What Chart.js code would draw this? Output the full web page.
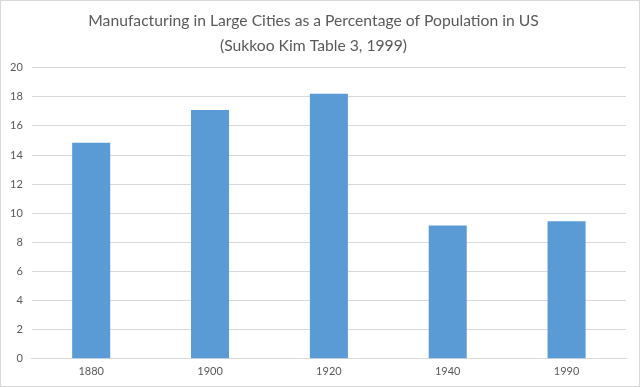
<!DOCTYPE html>
<html><head><meta charset="utf-8">
<script src="https://cdn.jsdelivr.net/npm/chart.js@4/dist/chart.umd.min.js"></script>
<style>
html,body{margin:0;padding:0;background:#fff;}
#wrap{position:absolute;left:0;top:0;width:638px;height:385px;border:1px solid #d9d9d9;}
</style></head><body>
<div id="wrap"><canvas id="c" width="638" height="385"></canvas></div>
<script>
const categories = ["1880", "1900", "1920", "1940", "1990"];
const values = [14.85, 17.1, 18.2, 9.15, 9.45];
const titleLines = ["Manufacturing in Large Cities as a Percentage of Population in US", "(Sukkoo Kim Table 3, 1999)"];

new Chart(document.getElementById('c'), {
  type: 'bar',
  data: {
    labels: categories,
    datasets: [{
      data: values,
      backgroundColor: '#5b9bd5',
      borderColor: '#5b9bd5',
      borderWidth: 0,
      barPercentage: 0.32,
      categoryPercentage: 1.0
    }]
  },
  options: {
    responsive: false,
    animation: false,
    devicePixelRatio: 1,
    layout: { padding: { left: 0, right: 13, top: 8, bottom: 2 } },
    plugins: {
      legend: { display: false },
      tooltip: { enabled: false },
      title: {
        display: true,
        text: titleLines,
        color: '#595959',
        font: { family: 'Lato', size: 15.7, weight: 'normal', lineHeight: 1.55 },
        padding: { top: 0, bottom: 10 }
      }
    },
    scales: {
      x: {
        grid: { display: false, drawTicks: false },
        border: { display: true, color: '#d9d9d9' },
        ticks: { color: '#595959', font: { family: 'Lato', size: 11 }, padding: 6 }
      },
      y: {
        min: 0, max: 20,
        ticks: { stepSize: 2, color: '#595959', font: { family: 'Lato', size: 11 }, padding: 9 },
        grid: { color: '#d9d9d9', drawTicks: false },
        border: { display: false }
      }
    }
  }
});
</script>
</body></html>
